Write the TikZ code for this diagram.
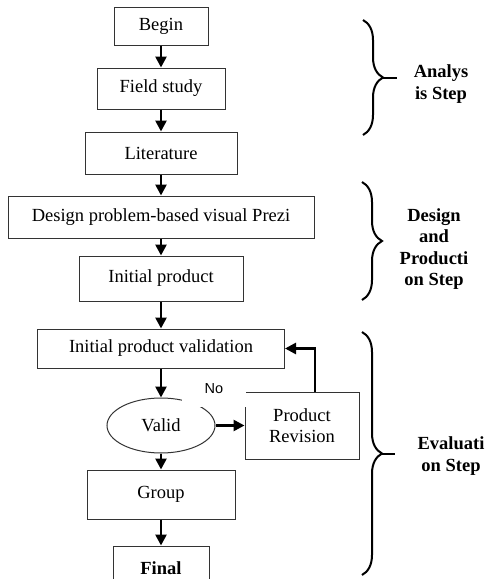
\documentclass[tikz,border=0pt]{standalone}
\usepackage{fontspec}
\setmainfont{Liberation Serif}
\newfontfamily\labelsans{Liberation Sans}
\usetikzlibrary{positioning}
\usetikzlibrary{arrows.meta,shapes.geometric,decorations.pathreplacing}

\tikzset{
  box/.style={draw=black!80, line width=1pt, align=center, inner sep=2pt,
    font=\fontsize{18.5}{20.5}\selectfont},
  flow/.style={-{Triangle[length=11pt,width=11pt]}, line width=2.6pt},
  stepbrace/.style={decorate, decoration={brace, amplitude=20pt}, line width=2pt},
  steptext/.style={align=center, font=\fontsize{18.5}{21.5}\selectfont\bfseries},
}

\begin{document}
\begin{tikzpicture}[x=1pt,y=1pt]
				\useasboundingbox (0,0) rectangle (485,-579);

				\node[box, minimum width=94pt, minimum height=38pt](begin) at (161,-26) {Begin};
				\node[box, below=22pt of begin, minimum width=128pt, minimum height=41pt](field) {Field study};
				\node[box, below=22pt of field, minimum width=152pt, minimum height=42pt](literature) {Literature};
				\node[box, below=21pt of literature, minimum width=306pt, minimum height=42pt](design) {Design problem-based visual Prezi};
				\node[box, below=17pt of design, minimum width=164pt, minimum height=45pt](initial) {Initial product};
				\node[box, below=27pt of initial, minimum width=247pt, minimum height=39pt](validation) {Initial product validation};
				\node[box, ellipse, below=29pt of validation, minimum width=108pt, minimum height=55pt, inner sep=0pt](valid) {Valid};
				\node[box, right=29pt of valid, minimum width=114pt, minimum height=67pt](revision) {Product\\Revision};
				\node[box, below=16pt of valid, minimum width=148pt, minimum height=49pt](group) {Group};
				\node[box, below=26pt of group, minimum width=96pt, minimum height=44pt](final) {\bfseries Final};

				% the No label sits on a white patch over the ellipse and the box corner
				\node[fill=white, minimum width=64pt, minimum height=36pt, font=\labelsans\fontsize{14.5}{16}\selectfont](no) at (214,-389) {No};

				\draw[flow] (begin) to (field);
				\draw[flow] (field) to (literature);
				\draw[flow] (literature) to (design);
				\draw[flow] (design) to (initial);
				\draw[flow] (initial) to (validation);
				\draw[flow] (validation) to (valid);
				\draw[flow] (valid) to (revision);
				\draw[flow] (valid) to (group);
				\draw[flow] (group) to (final);
				\coordinate (loop) at ([xshift=13pt]revision.north);
				\draw[flow] (loop) |- (validation.east);

				% steps on the right
				\draw[stepbrace] (363,-20) -- (363,-135);
				\draw[line width=2pt] (382,-77.5) -- (397,-77.5);
				\node[steptext](analysis) at (441,-84) {Analys\\is Step};

				\draw[stepbrace] (362,-182) -- (362,-300);
				\node[steptext](production) at (434,-249) {Design\\and\\Producti\\on Step};

				\draw[stepbrace] (362,-332) -- (362,-575);
				\draw[line width=2pt] (381,-453.5) -- (395,-453.5);
				\node[steptext](evaluation) at (451,-456) {Evaluati\\on Step};
			\end{tikzpicture}
\end{document}
